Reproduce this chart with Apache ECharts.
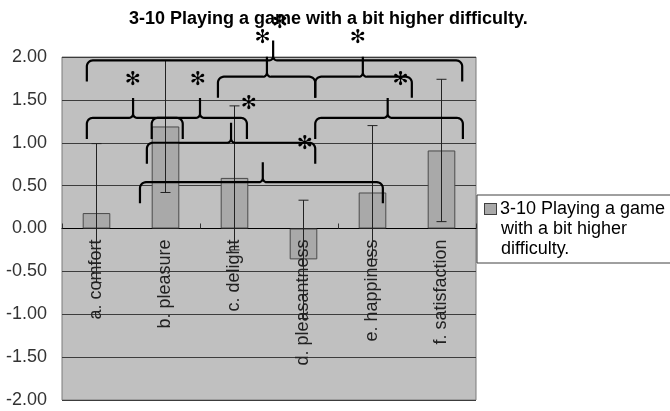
<!DOCTYPE html>
<html><head><meta charset="utf-8">
<script src="https://cdn.jsdelivr.net/npm/echarts@6/dist/echarts.min.js"></script>
<style>html,body{margin:0;padding:0;background:#fff}#c{width:670px;height:411px}</style>
</head><body><div id="c"></div>
<script>
const titleText = '3-10 Playing a game with a bit higher difficulty.';
const seriesName = '3-10 Playing a game with a bit higher difficulty.';
const legendLines = ['3-10 Playing a game', 'with a bit higher', 'difficulty.'];
const categories = ['a. comfort', 'b. pleasure', 'c. delight', 'd. pleasantness', 'e. happiness', 'f. satisfaction'];
const means = [0.18, 1.19, 0.59, -0.36, 0.42, 0.91];
const errors = [0.81, 0.77, 0.84, 0.69, 0.78, 0.83];
const yMin = -2, yMax = 2, yStep = 0.5;
// significance braces (positions in category units / value units)
const braceFrom  = [-0.14, 1.76, 3.17, -0.14, 0.80, 0.73, 3.17, 0.63];
const braceTo    = [5.30, 3.17, 4.57, 1.25, 2.18, 3.17, 5.31, 4.15];
const braceLevel = [1.96, 1.77, 1.77, 1.29, 1.29, 1.00, 1.29, 0.54];
const bracePeak  = [2.56, 2.47, 3.86, 0.53, 1.50, 1.95, 4.22, 2.41];
const starX = [2.41, 2.66, 3.79, 0.53, 1.47, 2.21, 3.02, 4.41];
const starY = [2.22, 2.40, 2.22, 1.73, 1.73, 1.45, 0.99, 1.73];

const FONT = 'Liberation Sans, Arial, sans-serif';
const chart = echarts.init(document.getElementById('c'), null, {renderer: 'canvas'});

function arcPts(cx, cy, r, a0, a1, n) {
  const pts = [];
  for (let k = 0; k <= n; k++) {
    const a = a0 + (a1 - a0) * k / n;
    pts.push([cx + r * Math.cos(a), cy + r * Math.sin(a)]);
  }
  return pts;
}

const braceData = braceFrom.map((f, i) => [f, braceTo[i], braceLevel[i], bracePeak[i]]);
const starData = starX.map((x, i) => [x, starY[i]]);
const errData = means.map((m, i) => [i, m - errors[i], m + errors[i]]);
const labelData = categories.map((c, i) => [i, 0]);

chart.setOption({
  animation: false,
  backgroundColor: '#fff',
  title: {
    text: titleText, left: 124, top: 5,
    textStyle: {fontFamily: FONT, fontWeight: 'bold', fontSize: 18, color: '#000'}
  },
  grid: {left: 62, right: 194, top: 57, bottom: 11, show: true, outerBoundsMode: 'none',
    backgroundColor: '#c0c0c0', borderColor: '#7a7a7a', borderWidth: 1, containLabel: false},
  legend: {
    left: 477, top: 195, orient: 'vertical',
    backgroundColor: '#fff', borderColor: '#404040', borderWidth: 1,
    padding: [4, 40, 4, 1],
    icon: 'rect', itemWidth: 1, itemHeight: 1,
    itemStyle: {opacity: 0},
    textStyle: {fontFamily: FONT, fontSize: 18, color: '#000', lineHeight: 20,
      rich: {
        b: {width: 11, height: 10, backgroundColor: '#a9a9a9', borderColor: '#404040', borderWidth: 1},
        g: {width: 4},
        s: {width: 16},
        t: {fontFamily: FONT, fontSize: 18, color: '#000', lineHeight: 20}
      }},
    formatter: () => '{b|}{g|}{t|' + legendLines[0] + '}\n{s|}{t|' + legendLines[1] + '}\n{s|}{t|' + legendLines[2] + '}',
    data: [seriesName]
  },
  xAxis: [{
    type: 'category', data: categories,
    axisLine: {onZero: true, lineStyle: {color: '#000', width: 1}},
    axisTick: {show: true, inside: true, length: 5, lineStyle: {color: '#333'}},
    axisLabel: {show: false},
    splitLine: {show: false}
  }, {
    type: 'value', min: -0.5, max: 5.5, show: false
  }],
  yAxis: {
    type: 'value', min: yMin, max: yMax, interval: yStep,
    axisLine: {show: false}, axisTick: {show: false},
    axisLabel: {formatter: v => v.toFixed(2), margin: 15, fontFamily: FONT, fontSize: 18, color: '#333'},
    splitLine: {show: true, lineStyle: {color: '#3c3c3c', width: 1}}
  },
  series: [{
    name: seriesName, type: 'bar', data: means, barWidth: '40%', z: 2,
    itemStyle: {color: '#a9a9a9', borderColor: '#4a4a4a', borderWidth: 1}
  }, {
    // category labels, rotated, hanging below the zero line (drawn over the bars)
    type: 'custom', xAxisIndex: 0, z: 3, data: labelData, clip: false, silent: true,
    renderItem: (params, api) => {
      const p = api.coord([api.value(0), api.value(1)]);
      return {type: 'text', x: p[0], y: p[1] + 11, rotation: Math.PI / 2,
        style: {text: categories[params.dataIndex], fontFamily: FONT, fontSize: 18, fill: '#222',
          align: 'right', verticalAlign: 'middle'}};
    }
  }, {
    type: 'custom', xAxisIndex: 0, z: 4, data: errData,
    renderItem: (params, api) => {
      const lo = api.coord([api.value(0), api.value(1)]);
      const hi = api.coord([api.value(0), api.value(2)]);
      const w = 5;
      const st = {stroke: '#222', lineWidth: 1};
      return {type: 'group', children: [
        {type: 'line', shape: {x1: hi[0], y1: hi[1], x2: lo[0], y2: lo[1]}, style: st},
        {type: 'line', shape: {x1: hi[0] - w, y1: hi[1], x2: hi[0] + w, y2: hi[1]}, style: st},
        {type: 'line', shape: {x1: lo[0] - w, y1: lo[1], x2: lo[0] + w, y2: lo[1]}, style: st}
      ]};
    }
  }, {
    type: 'custom', xAxisIndex: 1, z: 5, data: braceData, clip: false,
    renderItem: (params, api) => {
      const p1 = api.coord([api.value(0), api.value(2)]);
      const p2 = api.coord([api.value(1), api.value(2)]);
      const pk = api.coord([api.value(3), api.value(2)]);
      const y = p1[1], x1 = p1[0], x2 = p2[0], px = pk[0];
      const hook = 21, r = 6, peak = 20, pw = 4;
      let pts = [[x1, y + hook]];
      pts = pts.concat(arcPts(x1 + r, y + r, r, Math.PI, 1.5 * Math.PI, 8));
      pts = pts.concat(arcPts(px - pw, y - pw, pw, 0.5 * Math.PI, 0, 6));
      pts.push([px, y - peak]);
      pts = pts.concat(arcPts(px + pw, y - pw, pw, Math.PI, 0.5 * Math.PI, 6));
      pts = pts.concat(arcPts(x2 - r, y + r, r, -0.5 * Math.PI, 0, 8));
      pts.push([x2, y + hook]);
      return {type: 'polyline', shape: {points: pts}, style: {stroke: '#000', lineWidth: 2.2, fill: null}};
    }
  }, {
    type: 'custom', xAxisIndex: 1, z: 6, data: starData, clip: false,
    renderItem: (params, api) => {
      const p = api.coord([api.value(0), api.value(1)]);
      return {type: 'text', x: p[0], y: p[1], style: {text: '\u273B', fontFamily: 'DejaVu Sans', fontSize: 19,
        fill: '#000', align: 'center', verticalAlign: 'middle'}};
    }
  }]
});
</script>
</body></html>
